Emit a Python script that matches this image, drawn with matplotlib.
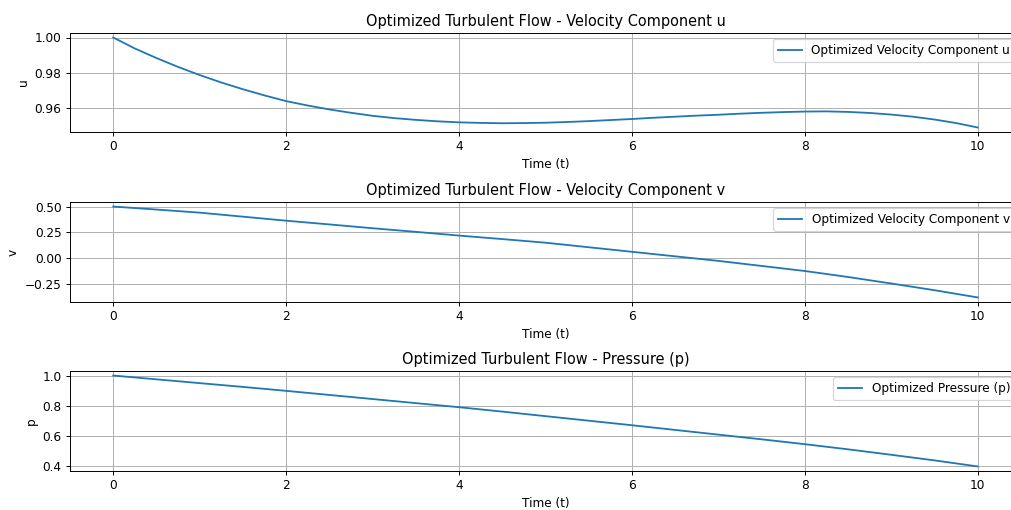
import numpy as np
import matplotlib.pyplot as plt

# time samples and solution values
t_u = [0.0, 0.25, 0.5, 0.75, 1.0, 1.25, 1.5, 1.75, 2.0, 2.25, 2.5, 2.75, 3.0, 3.25,
       3.5, 3.75, 4.0, 4.25, 4.5, 4.75, 5.0, 5.25, 5.5, 5.75, 6.0, 6.25, 6.5,
       6.75, 7.0, 7.25, 7.5, 7.75, 8.0, 8.25, 8.5, 8.75, 9.0, 9.25, 9.5, 9.75, 10.0]
u_opt = [1.0000, 0.9938, 0.9884, 0.9834, 0.9788, 0.9746, 0.9708, 0.9673, 0.9641, 0.9616,
         0.9594, 0.9575, 0.9558, 0.9545, 0.9535, 0.9527, 0.9521, 0.9518, 0.9516, 0.9517,
         0.9519, 0.9523, 0.9528, 0.9534, 0.9540, 0.9547, 0.9553, 0.9559, 0.9564, 0.9570,
         0.9575, 0.9579, 0.9582, 0.9583, 0.9580, 0.9574, 0.9565, 0.9553, 0.9537, 0.9517,
         0.9492]

t = [0.0, 0.5, 1.0, 1.5, 2.0, 2.5, 3.0, 3.5, 4.0, 4.5, 5.0,
     5.5, 6.0, 6.5, 7.0, 7.5, 8.0, 8.5, 9.0, 9.5, 10.0]

v_opt = [0.500, 0.471, 0.441, 0.402, 0.363, 0.327, 0.290, 0.255, 0.219, 0.185, 0.150,
         0.106, 0.062, 0.018, -0.026, -0.075, -0.124, -0.182, -0.245, -0.310, -0.380]

p_opt = [1.000, 0.975, 0.950, 0.925, 0.899, 0.872, 0.845, 0.818, 0.791, 0.762, 0.732,
         0.702, 0.672, 0.641, 0.610, 0.579, 0.547, 0.513, 0.477, 0.440, 0.400]

panels = [
    (t_u, u_opt, "Optimized Velocity Component u", "u", "Optimized Turbulent Flow - Velocity Component u"),
    (t, v_opt, "Optimized Velocity Component v", "v", "Optimized Turbulent Flow - Velocity Component v"),
    (t, p_opt, "Optimized Pressure (p)", "p", "Optimized Turbulent Flow - Pressure (p)"),
]
yticks = [[0.96, 0.98, 1.00], [-0.25, 0.0, 0.25, 0.5], [0.4, 0.6, 0.8, 1.0]]

DPI = 87
W, H = 1011.0, 510.0
fig, axes = plt.subplots(3, 1, figsize=(W / DPI, H / DPI), dpi=DPI)

# axes run past the right edge, like the cropped original
boxes = [(70, 33, 1021, 132), (70, 202, 1021, 302), (70, 371, 1021, 471)]

for ax, (tt, vals, lab, ylab, title), (x0, y0, x1, y1), yt in zip(axes, panels, boxes, yticks):
    ax.set_position([x0 / W, 1 - y1 / H, (x1 - x0) / W, (y1 - y0) / H])
    ax.plot(tt, vals, label=lab)
    ax.set_title(title)
    ax.set_xlabel("Time (t)")
    ax.set_ylabel(ylab)
    ax.set_yticks(yt)
    ax.legend(loc="upper right")
    ax.grid(True)

plt.savefig("out.png", dpi=DPI)
plt.close()
